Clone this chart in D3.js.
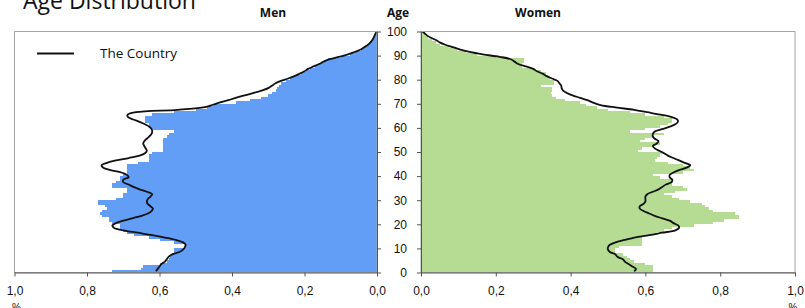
<!DOCTYPE html>
<html>
<head>
<meta charset="utf-8">
<title>Age Distribution</title>
<script src="https://d3js.org/d3.v7.min.js"></script>
<style>
body { margin: 0; background: #fff; }
.tick text { font-family: "Liberation Sans", Arial, sans-serif; font-size: 12px; fill: #111; }
.axis path, .axis line { stroke: #555; }
</style>
</head>
<body>
<div id="chart"></div>
<script>
//---------------------------- DATA ----------------------------//
// one value per age, 0..100, share of population in %
const ages = d3.range(0, 101);

const menBars = [
  .73, .65, .645, .60, .58, .575, .57, .565, .56, .56,
  .53, .53, .56, .60, .63, .67, .69, .70, .71, .71,
  .73, .74, .74, .76, .765, .76, .745, .75, .77, .77,
  .72, .70, .70, .69, .69, .73, .73, .72, .71, .71,
  .70, .69, .69, .69, .69, .66, .63, .63, .63, .62,
  .59, .59, .59, .59, .59, .59, .58, .575, .56, .62,
  .63, .63, .64, .64, .64, .62, .56, .50, .47, .45,
  .39, .35, .32, .30, .29, .28, .275, .27, .265, .25,
  .24, .23, .21, .195, .185, .17, .16, .145, .135, .10,
  .075, .06, .045, .035, .025, .02, .014, .01, .006, .004,
  .002
];

const womenBars = [
  .62, .62, .62, .60, .57, .56, .55, .54, .52, .52,
  .53, .59, .59, .59, .59, .61, .63, .65, .67, .73,
  .78, .81, .85, .85, .84, .78, .77, .76, .75, .72,
  .69, .67, .65, .68, .71, .70, .67, .67, .67, .64,
  .62, .70, .73, .72, .70, .66, .625, .63, .64, .65,
  .58, .59, .62, .64, .585, .60, .62, .65, .56, .60,
  .64, .66, .67, .67, .65, .60, .56, .50, .47, .44,
  .425, .385, .36, .35, .348, .35, .35, .32, .355, .355,
  .345, .34, .335, .32, .30, .27, .27, .275, .275, .20,
  .15, .12, .095, .075, .05, .04, .03, .02, .012, .008,
  .02
];

// "The Country" reference curves
const menLine = [
  .61, .605, .60, .595, .585, .58, .575, .565, .545, .535,
  .53, .528, .535, .555, .585, .62, .66, .70, .725, .73,
  .72, .70, .675, .65, .632, .622, .618, .625, .633, .635,
  .632, .625, .62, .635, .655, .672, .685, .70, .70, .685,
  .69, .705, .735, .755, .76, .745, .72, .685, .655, .64,
  .635, .638, .642, .645, .642, .635, .628, .622, .62, .622,
  .628, .64, .655, .672, .687, .688, .665, .55, .48, .455,
  .435, .41, .39, .365, .34, .318, .30, .29, .28, .265,
  .245, .228, .213, .20, .19, .175, .16, .147, .13, .105,
  .08, .062, .045, .035, .025, .018, .013, .009, .006, .003,
  0
];

const womenLine = [
  .57, .575, .565, .555, .545, .54, .525, .52, .505, .50,
  .50, .505, .52, .545, .57, .61, .645, .68, .69, .688,
  .675, .665, .645, .625, .61, .595, .585, .585, .595, .60,
  .60, .60, .605, .62, .635, .645, .655, .67, .672, .665,
  .665, .675, .69, .71, .72, .705, .69, .675, .66, .65,
  .637, .625, .62, .63, .635, .625, .62, .62, .625, .645,
  .665, .68, .687, .685, .67, .64, .605, .57, .52, .48,
  .46, .445, .425, .405, .39, .38, .376, .375, .37, .365,
  .35, .336, .325, .31, .30, .28, .26, .25, .24, .21,
  .165, .13, .105, .085, .065, .05, .04, .025, .015, .008,
  .003
];

const shareTicks = [0, 0.2, 0.4, 0.6, 0.8, 1.0];
const ageTicks = [0, 10, 20, 30, 40, 50, 60, 70, 80, 90, 100];

//---------------------------- SETUP ---------------------------//
const width = 805;
const height = 308;
const plotTop = 31.5;
const plotBottom = 272.5;

const svg = d3.select("#chart").append("svg")
    .attr("width", width)
    .attr("height", height);

const yScale = d3.scaleLinear().domain([0, 100]).range([plotBottom, plotTop]);
const xMen = d3.scaleLinear().domain([1, 0]).range([14.5, 377]);
const xWomen = d3.scaleLinear().domain([0, 1]).range([421, 795]);

const menData = ages.map((a, i) => ({ age: a, bar: menBars[i], line: menLine[i] }));
const womenData = ages.map((a, i) => ({ age: a, bar: womenBars[i], line: womenLine[i] }));

const comma = d => d3.format(".1f")(d).replace(".", ",");

// clip each panel to its frame
const defs = svg.append("defs");
[["clipMen", xMen], ["clipWomen", xWomen]].forEach(([id, sc]) => {
  const r = d3.extent(sc.range());
  defs.append("clipPath").attr("id", id).append("rect")
      .attr("x", r[0]).attr("y", plotTop)
      .attr("width", r[1] - r[0]).attr("height", plotBottom - plotTop);
});

//--------------------------- PANELS ---------------------------//
function panel(data, xs, colour, clipId) {
  const g = svg.append("g").attr("clip-path", "url(#" + clipId + ")");

  g.selectAll("rect.bar")
    .data(data)
    .join("rect")
    .attr("class", "bar")
    .attr("x", d => Math.min(xs(0), xs(d.bar)))
    .attr("width", d => Math.abs(xs(d.bar) - xs(0)))
    .attr("y", d => yScale(d.age + 1))
    .attr("height", d => yScale(d.age) - yScale(d.age + 1))
    .attr("fill", colour)
    .attr("shape-rendering", "crispEdges");

  const line = d3.line()
    .x(d => xs(d.line))
    .y(d => yScale(Math.min(d.age + 0.5, 100)))
    .curve(d3.curveCatmullRom);

  g.append("path")
    .attr("d", line(data))
    .attr("fill", "none")
    .attr("stroke", "#111")
    .attr("stroke-width", 1.8);

  // frame
  const r = d3.extent(xs.range());
  svg.append("rect")
    .attr("x", r[0]).attr("y", plotTop)
    .attr("width", r[1] - r[0]).attr("height", plotBottom - plotTop)
    .attr("fill", "none")
    .attr("stroke", "#a6a6a6")
    .attr("stroke-width", 1);

  svg.append("g")
    .attr("class", "axis")
    .attr("transform", "translate(0," + plotBottom + ")")
    .call(d3.axisBottom(xs).tickValues(shareTicks).tickSize(4).tickSizeOuter(0)
      .tickPadding(10).tickFormat(comma));
}

panel(menData, xMen, "#629ef6", "clipMen");
panel(womenData, xWomen, "#b5dc92", "clipWomen");

// age axes
svg.append("g")
  .attr("class", "axis")
  .attr("transform", "translate(" + xMen(0) + ",0)")
  .call(d3.axisRight(yScale).tickValues(ageTicks).tickSize(4).tickSizeOuter(0).tickFormat(""));

svg.append("g")
  .attr("class", "axis")
  .attr("transform", "translate(" + xWomen(0) + ",0)")
  .call(d3.axisLeft(yScale).tickValues(ageTicks).tickSize(4).tickSizeOuter(0).tickPadding(10));

//--------------------------- LABELS ---------------------------//
svg.append("text")
  .attr("x", 23).attr("y", 9)
  .style("font-family", "'Open Sans', sans-serif")
  .style("font-size", "23px")
  .attr("fill", "#111")
  .text("Age Distribution");

const heads = [["Men", 273], ["Age", 398], ["Women", 538]];
svg.selectAll("text.head")
  .data(heads)
  .join("text")
  .attr("class", "head")
  .attr("x", d => d[1]).attr("y", 17)
  .attr("text-anchor", "middle")
  .style("font-family", "'Open Sans', sans-serif")
  .style("font-size", "12px")
  .style("font-weight", "bold")
  .attr("fill", "#111")
  .text(d => d[0]);

// unit marks under the outer 1,0 labels
[xMen(1) + 2, xWomen(1) - 2].forEach(x => {
  svg.append("text")
    .attr("x", x).attr("y", 311)
    .attr("text-anchor", "middle")
    .style("font-family", "'Liberation Sans', Arial, sans-serif")
    .style("font-size", "10px")
    .attr("fill", "#111")
    .text("%");
});

// legend
svg.append("line")
  .attr("x1", 37).attr("x2", 74)
  .attr("y1", 53.5).attr("y2", 53.5)
  .attr("stroke", "#111")
  .attr("stroke-width", 1.8);

svg.append("text")
  .attr("x", 100).attr("y", 58)
  .style("font-family", "'Open Sans', sans-serif")
  .style("font-size", "13.5px")
  .attr("fill", "#111")
  .text("The Country");
</script>
</body>
</html>
